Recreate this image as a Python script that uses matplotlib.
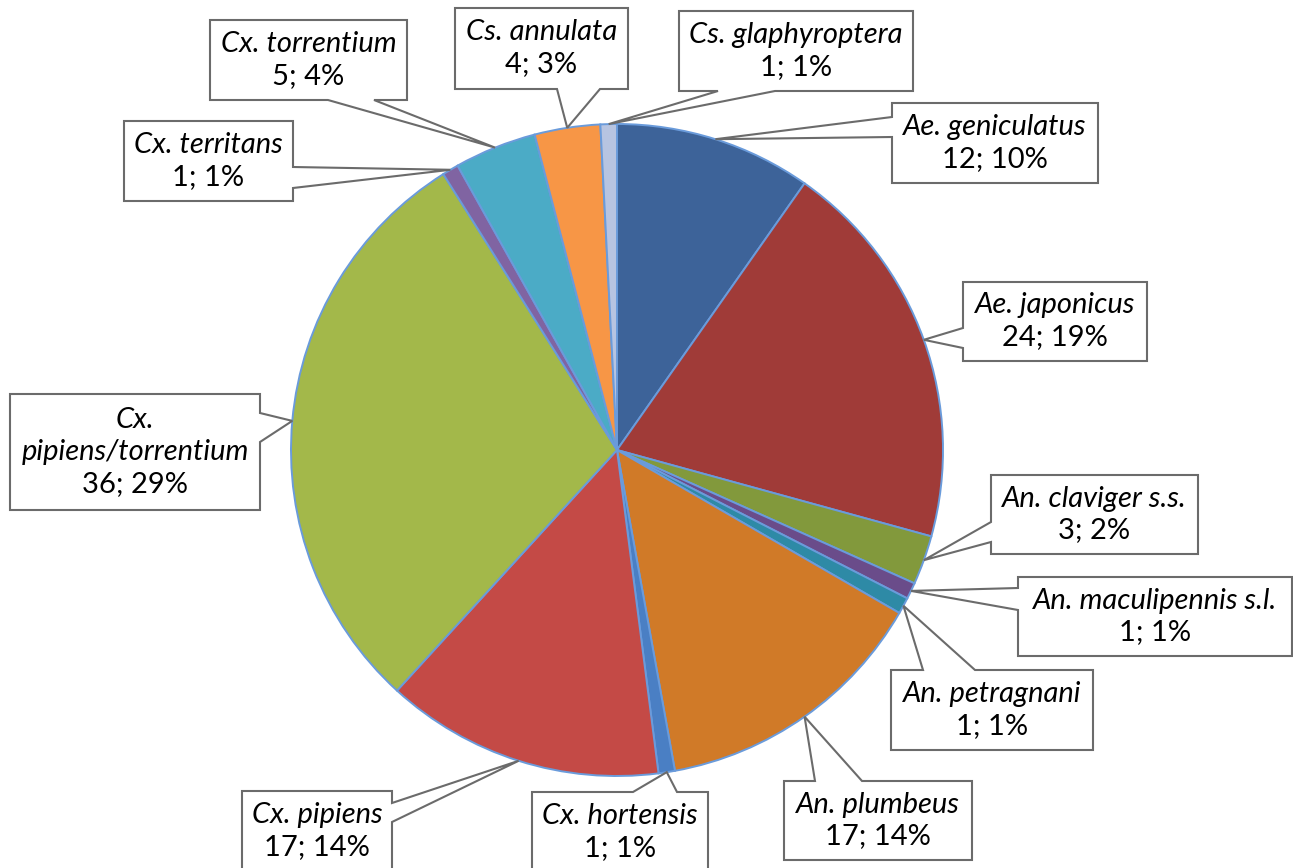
import matplotlib.pyplot as plt
from matplotlib.patches import Polygon
import numpy as np

# --- data ---
species = ["Ae. geniculatus", "Ae. japonicus", "An. claviger s.s.", "An. maculipennis s.l.",
           "An. petragnani", "An. plumbeus", "Cx. hortensis", "Cx. pipiens",
           "Cx.\npipiens/torrentium", "Cx. territans", "Cx. torrentium", "Cs. annulata",
           "Cs. glaphyroptera"]
counts = [12, 24, 3, 1, 1, 17, 1, 17, 36, 1, 5, 4, 1]
pct_labels = ["10%", "19%", "2%", "1%", "1%", "14%", "1%", "14%", "29%", "1%", "4%", "3%", "1%"]

colors = ["#3d6399", "#a03b38", "#82993c", "#6a4c8a", "#2e8aa6", "#d07a28", "#4a7fc4",
          "#c44a46", "#a3b84a", "#8064a2", "#4babc6", "#f79646", "#b7c4e1"]

# --- layout (pixel coords, origin top-left) ---
W, H = 1293, 868
pie_center = (617, 450)
pie_r = 326
# box x0, y0, x1, y1 ; tail side and base span along that side
boxes = [(892, 103, 1098, 183), (963, 282, 1147, 361), (991, 475, 1198, 554),
         (1018, 577, 1292, 656), (891, 670, 1093, 750), (784, 781, 972, 860),
         (532, 792, 708, 872), (242, 791, 392, 872), (10, 394, 260, 510),
         (124, 121, 293, 201), (210, 20, 407, 100), (455, 8, 628, 89),
         (679, 11, 913, 91)]
tails = [("l", 117, 137), ("l", 328, 348), ("l", 522, 542), ("l", 588, 610),
         ("t", 923, 975), ("t", 815, 862), ("t", 633, 677), ("r", 803, 822),
         ("r", 413, 442), ("r", 167, 188), ("b", 328, 374), ("b", 557, 600),
         ("b", 718, 775)]


def fy(y):
    return H - y


fig = plt.figure(figsize=(W / 100, H / 100), dpi=100)
ax = fig.add_axes([0, 0, 1, 1])

ax.pie(counts, colors=colors, startangle=90, counterclock=False,
       center=(pie_center[0], fy(pie_center[1])), radius=pie_r,
       wedgeprops=dict(edgecolor="#6a9bdb", linewidth=1.4))

ax.set_xlim(0, W)
ax.set_ylim(0, H)
ax.set_aspect("equal")
ax.axis("off")

# tail tips: mid-angle of each wedge on the rim
cum = np.cumsum([0] + counts)
total = cum[-1]
mids = (cum[:-1] + cum[1:]) / 2 / total * 2 * np.pi

for i, name in enumerate(species):
    x0, y0, x1, y1 = boxes[i]
    side, a, b = tails[i]
    tip = (pie_center[0] + pie_r * np.sin(mids[i]), pie_center[1] - pie_r * np.cos(mids[i]))
    pts = [(x0, y0)]
    if side == "t":
        pts += [(a, y0), tip, (b, y0)]
    pts.append((x1, y0))
    if side == "r":
        pts += [(x1, a), tip, (x1, b)]
    pts.append((x1, y1))
    if side == "b":
        pts += [(b, y1), tip, (a, y1)]
    pts.append((x0, y1))
    if side == "l":
        pts += [(x0, b), tip, (x0, a)]
    pts = [(x, fy(y)) for x, y in pts]
    ax.add_patch(Polygon(pts, closed=True, facecolor="white", edgecolor="#6b6b6b",
                         linewidth=1.5, zorder=5))

    lines = name.split("\n")
    cx = (x0 + x1) / 2
    n = len(lines) + 1
    ytop = (y0 + y1) / 2 - (n - 1) * 32 / 2
    for k, ln in enumerate(lines):
        ax.text(cx, fy(ytop + k * 32), ln, ha="center", va="center", style="italic",
                fontsize=21, family="Lato", color="black", zorder=6)
    ax.text(cx, fy(ytop + len(lines) * 32), f"{counts[i]}; {pct_labels[i]}",
            ha="center", va="center", fontsize=21, family="Lato", color="black", zorder=6)

fig.savefig("out.png", dpi=100)
